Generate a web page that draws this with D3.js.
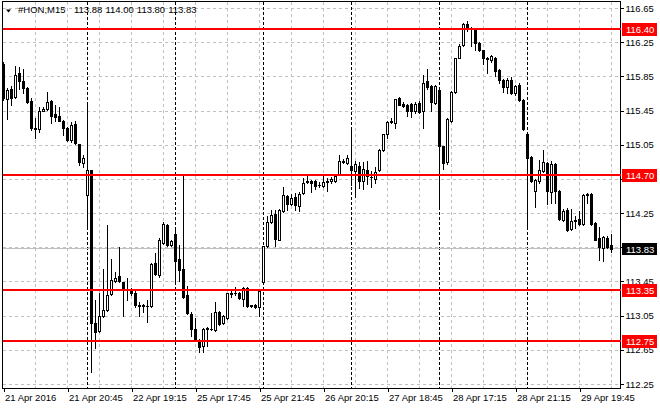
<!DOCTYPE html>
<html><head><meta charset="utf-8">
<script src="https://cdn.jsdelivr.net/npm/d3@7"></script>
<style>
html,body{margin:0;padding:0;background:#fff;}
svg{display:block;font-family:"Liberation Sans",Arial,sans-serif;}
</style></head>
<body>
<svg id="chart" width="660" height="410"></svg>
<script>
// ---------- data ----------
const symbol = "#HON,M15";
const days = ["21 Apr","22 Apr","25 Apr","26 Apr","27 Apr","28 Apr","29 Apr"];
const barsPerDay = [21,22,22,22,22,22,22];
const dayStart = ["16:45","16:30","16:30","16:30","16:30","16:30","16:30"];
const year = "2016";

const open = [116.00,115.58,115.70,115.61,115.89,115.80,115.71,115.56,115.24,115.23,115.45,115.47,115.56,115.41,115.39,115.33,115.25,115.10,115.29,115.06,114.84,
114.46,114.75,112.96,112.87,113.04,113.12,113.30,113.45,113.51,113.44,113.36,113.34,113.32,113.17,113.17,113.16,113.16,113.67,113.53,113.90,114.11,113.88,
114.01,113.71,113.60,113.29,113.07,112.89,112.77,112.69,112.89,112.89,112.88,113.09,112.96,113.02,113.31,113.32,113.32,113.25,113.37,113.16,113.18,113.15,
113.44,113.86,114.14,114.24,113.94,114.27,114.45,114.36,114.44,114.33,114.48,114.61,114.63,114.62,114.58,114.57,114.62,114.62,114.62,114.70,114.85,114.84,
114.80,114.74,114.80,114.62,114.76,114.67,114.65,114.75,114.99,115.17,115.32,115.31,115.60,115.53,115.52,115.53,115.44,115.54,115.44,115.79,115.74,115.54,
115.69,115.03,114.85,115.33,115.67,116.07,116.22,116.46,116.41,116.40,116.24,116.16,116.05,116.04,116.07,115.93,115.81,115.72,115.81,115.65,115.75,115.57,
115.18,114.91,114.51,114.62,114.74,114.84,114.50,114.82,114.51,114.17,114.29,114.06,114.16,114.18,114.12,114.46,114.47,114.13,113.96,113.84,113.96,113.88];
const high = [116.02,115.71,115.74,115.97,115.96,115.94,115.72,115.60,115.36,115.49,115.49,115.67,115.57,115.52,115.49,115.34,115.26,115.32,115.33,115.06,114.93,
115.54,114.76,113.23,113.31,113.60,114.11,113.71,113.56,113.85,113.44,113.49,113.37,113.35,113.21,113.19,113.23,113.67,113.78,113.96,114.15,114.12,113.94,
114.05,113.88,114.71,113.40,113.09,113.02,112.78,112.90,112.92,113.08,113.21,113.10,113.06,113.32,113.35,113.39,113.33,113.38,113.38,113.18,113.19,113.36,
113.87,114.22,114.29,114.29,114.30,114.55,114.46,114.47,114.49,114.50,114.66,114.69,114.64,114.64,114.61,114.71,114.66,114.67,114.70,114.93,114.88,114.93,
115.24,114.86,114.85,114.85,114.86,114.74,114.79,115.00,115.18,115.33,115.36,115.59,115.61,115.55,115.53,115.54,115.55,115.56,115.87,115.94,115.75,115.75,
115.70,115.04,115.36,115.68,116.07,116.23,116.48,116.50,116.43,116.41,116.25,116.16,116.08,116.10,116.08,115.94,115.82,115.83,115.84,115.75,115.77,115.58,
115.19,114.92,114.65,114.87,114.99,114.85,114.86,114.84,114.52,114.30,114.31,114.30,114.22,114.28,114.47,114.49,114.48,114.14,114.09,113.98,113.98,114.00];
const low = [115.57,115.35,115.52,115.60,115.70,115.66,115.54,115.22,115.13,115.20,115.44,115.46,115.30,115.33,115.33,115.16,115.09,115.08,115.06,114.81,114.79,
114.09,112.39,112.67,112.86,113.03,113.10,113.29,113.44,113.44,113.05,113.23,113.29,113.15,113.04,113.09,112.97,113.15,113.53,113.50,113.89,113.86,113.86,
113.46,113.46,113.26,113.07,112.81,112.76,112.62,112.63,112.70,112.88,112.87,112.94,112.95,113.01,113.27,113.29,113.25,113.16,113.15,113.15,113.14,113.05,
113.43,113.85,114.13,113.86,113.93,114.26,114.29,114.35,114.29,114.27,114.47,114.60,114.50,114.53,114.55,114.55,114.51,114.60,114.61,114.69,114.84,114.83,
114.58,114.44,114.54,114.53,114.59,114.55,114.60,114.74,114.98,115.13,115.30,115.24,115.51,115.49,115.39,115.38,115.42,115.42,115.24,115.70,115.44,115.53,
114.31,114.77,114.83,115.32,115.66,116.06,116.21,116.38,116.20,116.16,116.15,116.00,115.89,116.02,115.86,115.77,115.67,115.66,115.64,115.63,115.56,115.22,
114.09,114.61,114.32,114.60,114.73,114.36,114.37,114.37,114.17,114.16,114.04,114.05,114.08,114.11,114.11,114.37,114.11,113.93,113.70,113.69,113.84,113.80];
const close = [115.60,115.69,115.60,115.87,115.79,115.71,115.55,115.24,115.25,115.44,115.47,115.55,115.39,115.38,115.33,115.25,115.10,115.28,115.07,114.85,114.89,
114.75,112.96,112.86,113.04,113.12,113.29,113.47,113.49,113.45,113.36,113.35,113.32,113.17,113.18,113.16,113.16,113.66,113.54,113.94,114.12,113.88,113.92,
113.69,113.58,113.27,113.08,112.89,112.77,112.68,112.89,112.90,112.89,113.09,112.95,113.05,113.31,113.32,113.31,113.26,113.37,113.16,113.17,113.15,113.34,
113.86,114.14,114.23,113.95,114.29,114.46,114.36,114.43,114.34,114.47,114.60,114.62,114.60,114.57,114.58,114.61,114.63,114.65,114.68,114.86,114.86,114.90,
114.75,114.82,114.63,114.77,114.68,114.67,114.73,114.99,115.17,115.32,115.33,115.58,115.52,115.50,115.45,115.44,115.53,115.43,115.77,115.72,115.55,115.74,
115.03,114.84,115.35,115.67,116.06,116.21,116.46,116.42,116.40,116.24,116.16,116.07,116.07,116.09,115.91,115.81,115.72,115.81,115.65,115.74,115.57,115.23,
114.90,114.63,114.64,114.76,114.85,114.51,114.83,114.51,114.18,114.28,114.05,114.16,114.17,114.12,114.46,114.47,114.12,113.94,113.85,113.97,113.85,113.83];
const priceTicks = [116.65,116.25,115.85,115.45,115.05,114.65,114.25,113.85,113.45,113.05,112.65,112.25];
const levels = [116.40,114.70,113.35,112.75];

// ---------- build bar times ----------
const bars = [];
const daySep = [];
days.forEach((d, di) => {
  const [hh, mm] = dayStart[di].split(":").map(Number);
  if (di > 0) daySep.push(bars.length);
  for (let k = 0; k < barsPerDay[di]; k++) {
    const t = hh * 60 + mm + 15 * k;
    const tl = String(Math.floor(t / 60)).padStart(2, "0") + ":" + String(t % 60).padStart(2, "0");
    const i = bars.length;
    bars.push({i, day: d, time: tl, o: open[i], h: high[i], l: low[i], c: close[i]});
  }
});
const N = bars.length;

// ---------- layout ----------
const svg = d3.select("#chart");
const L = 2.5, R = 620.5, T = 1.5, B = 388.5;
const x = d3.scaleLinear().domain([0, N - 1]).range([3.5, 3.5 + 4 * (N - 1)]);
const y = d3.scaleLinear().domain([112.25, 116.65]).range([384, 8]);
const ry = v => Math.round(y(v));
const bid = close[N - 1];

// grid
const grid = svg.append("g").attr("stroke", "#c0c0c0").attr("stroke-dasharray", "3,3").attr("shape-rendering", "crispEdges");
priceTicks.forEach(p => grid.append("line").attr("x1", L).attr("x2", R).attr("y1", ry(p) + 0.5).attr("y2", ry(p) + 0.5));
d3.range(8, N, 8).forEach(i => grid.append("line").attr("x1", x(i)).attr("x2", x(i)).attr("y1", T).attr("y2", B));

// day separators
const sep = svg.append("g").attr("stroke", "#000").attr("stroke-dasharray", "3,2").attr("shape-rendering", "crispEdges");
daySep.forEach(i => sep.append("line").attr("x1", x(i)).attr("x2", x(i)).attr("y1", T).attr("y2", B));

// bid line
svg.append("line").attr("x1", L).attr("x2", R).attr("y1", ry(bid) - 0.5).attr("y2", ry(bid) - 0.5)
  .attr("stroke", "#c0c0c0").attr("shape-rendering", "crispEdges");

// candles
const cg = svg.append("g").attr("shape-rendering", "crispEdges");
bars.forEach(b => {
  const cx = x(b.i);
  cg.append("line").attr("x1", cx).attr("x2", cx).attr("y1", ry(b.h)).attr("y2", ry(b.l) + 1).attr("stroke", "#000");
  const yo = ry(b.o), yc = ry(b.c);
  if (b.c > b.o) {
    cg.append("rect").attr("x", cx - 1).attr("y", yc + 0.5).attr("width", 2).attr("height", Math.max(1, yo - yc))
      .attr("fill", "#fff").attr("stroke", "#000");
  } else if (b.c < b.o) {
    cg.append("rect").attr("x", cx - 1.5).attr("y", yo).attr("width", 3).attr("height", Math.max(1, yc - yo + 1)).attr("fill", "#000");
  } else {
    cg.append("rect").attr("x", cx - 1.5).attr("y", yo).attr("width", 3).attr("height", 1).attr("fill", "#000");
  }
});

// frame
svg.append("rect").attr("x", L).attr("y", T).attr("width", R - L).attr("height", B - T)
  .attr("fill", "none").attr("stroke", "#000").attr("shape-rendering", "crispEdges");

// y axis (tick label under the bid marker is hidden, as in the terminal)
const yAxis = d3.axisRight(y).tickValues(priceTicks).tickSize(3).tickPadding(2)
  .tickFormat(p => Math.abs(y(p) - y(bid)) < 6 ? "" : d3.format(".2f")(p));
const ya = svg.append("g").attr("transform", `translate(${R},0)`).call(yAxis);
ya.select(".domain").remove();
ya.selectAll("line").attr("stroke", "#000").attr("shape-rendering", "crispEdges");
ya.selectAll("text").attr("font-size", "9.5px").attr("fill", "#000").attr("font-family", "'Liberation Sans',Arial,sans-serif");

// x axis
const xTicks = d3.range(0, N, 16);
const xAxis = d3.axisBottom(x).tickValues(xTicks).tickSize(3).tickPadding(3)
  .tickFormat(i => i === 0 ? bars[i].day + " " + year : bars[i].day + " " + bars[i].time);
const xa = svg.append("g").attr("transform", `translate(0,${B})`).call(xAxis);
xa.select(".domain").remove();
xa.selectAll("line").attr("stroke", "#000").attr("shape-rendering", "crispEdges");
xa.selectAll("text").attr("text-anchor", "start").attr("dx", "1").attr("font-size", "9.5px").attr("fill", "#000")
  .attr("font-family", "'Liberation Sans',Arial,sans-serif");

// level lines
const lv = svg.append("g");
levels.forEach(p => {
  lv.append("line").attr("x1", L).attr("x2", R).attr("y1", ry(p)).attr("y2", ry(p))
    .attr("stroke", "#ff0000").attr("stroke-width", 2).attr("shape-rendering", "crispEdges");
  lv.append("rect").attr("x", 622).attr("y", ry(p) - 6).attr("width", 35).attr("height", 13).attr("fill", "#ff0000");
  lv.append("text").attr("x", 626).attr("y", ry(p) + 3.5).attr("fill", "#fff").attr("font-size", "9.5px").text(p.toFixed(2));
});
// bid label
svg.append("rect").attr("x", 622).attr("y", ry(bid) - 6).attr("width", 35).attr("height", 12).attr("fill", "#000");
svg.append("text").attr("x", 626).attr("y", ry(bid) + 3.5).attr("fill", "#fff").attr("font-size", "9.5px").text(bid.toFixed(2));

// header
const last = bars[N - 1];
svg.append("path").attr("d", "M6,9.5 L11,9.5 L8.5,12.5 Z").attr("fill", "#000");
const hdr = svg.append("g").attr("font-size", "9.5px").attr("fill", "#000");
hdr.append("text").attr("x", 18).attr("y", 13).text(symbol);
[last.o, last.h, last.l, last.c].forEach((v, k) => {
  hdr.append("text").attr("x", 74 + k * 31.4).attr("y", 13).text(v.toFixed(2));
});
</script>
</body></html>
